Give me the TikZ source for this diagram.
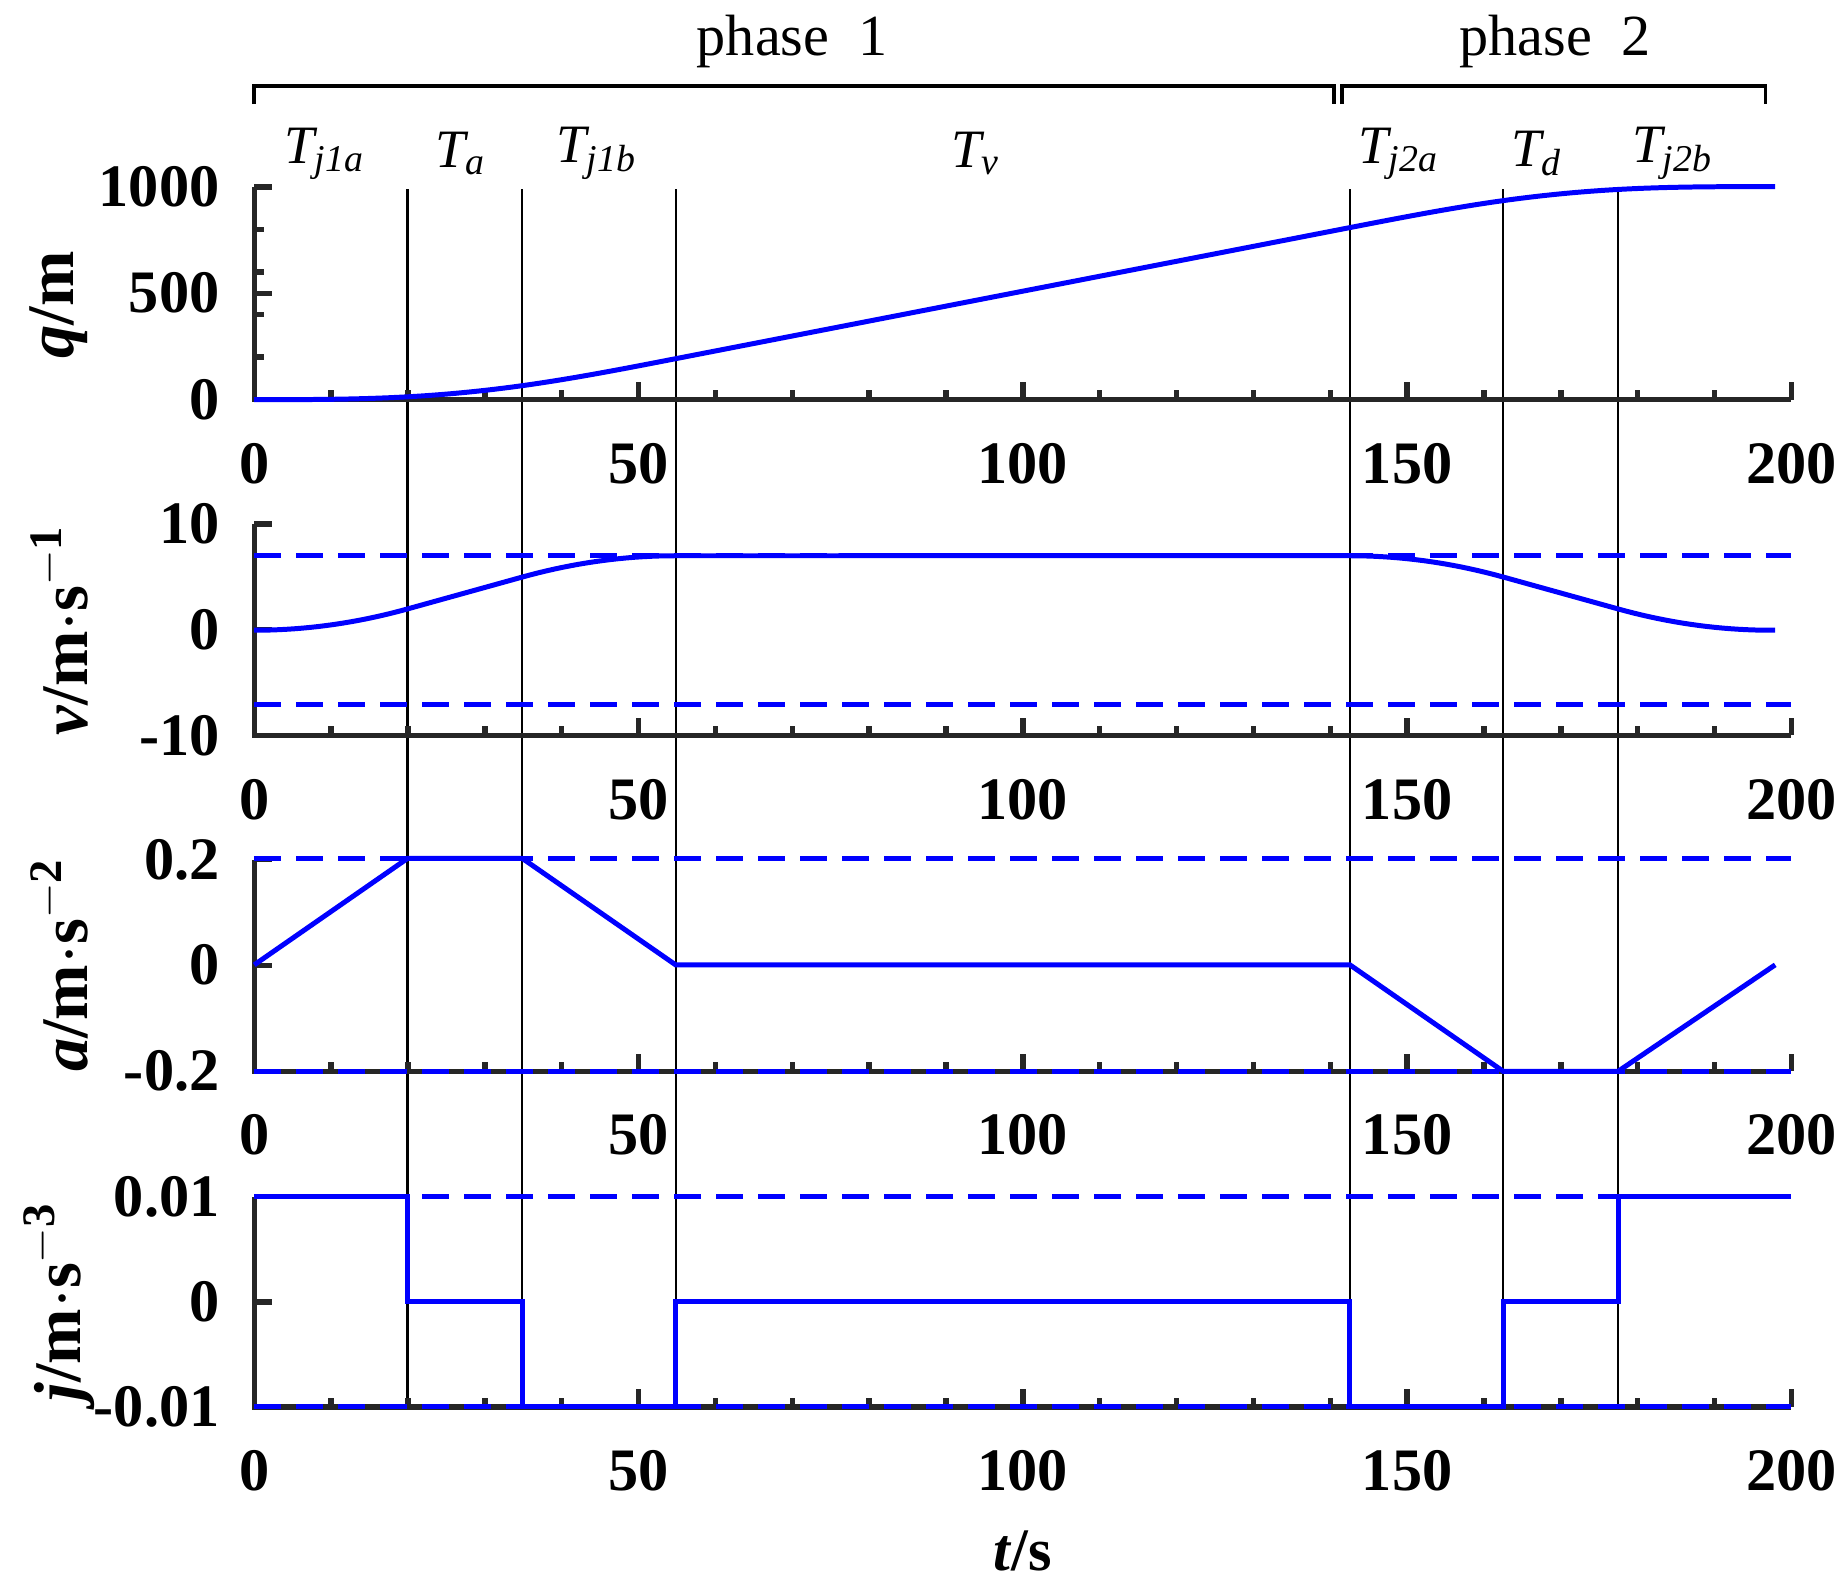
\documentclass[tikz,border=0pt]{standalone}
\usepackage{fontspec}
\setmainfont{Liberation Serif}
\begin{document}
\begin{tikzpicture}[x=0.01cm,y=-0.01cm,
  curve/.style={blue,line width=1.2pt},
  lim/.style={blue,line width=1.2pt,dash pattern=on 6.5pt off 3.6pt},
  axisline/.style={black!85,line width=1.3pt},
  tickl/.style={font=\bfseries\fontsize{14.5}{17}\selectfont},
  ylab/.style={font=\bfseries\fontsize{16}{18}\selectfont,rotate=90},
  tlab/.style={font=\itshape\fontsize{13}{15}\selectfont},
  vline/.style={black,line width=0.5pt}]
\useasboundingbox (0,0) rectangle (1562,1340);
% vertical separators
\foreach \t in {20,35,55,143,163,178}{
  \coordinate (vt\t) at ({215+6.48*\t},160);
  \coordinate (vb\t) at ({215+6.48*\t},1190);
  \draw[vline] (vt\t) -- (vb\t);}
% axes & ticks
\foreach \yb/\yt/\nm in {338/158/q,622/443/v,906/727/a,1190/1012/j}{
  \coordinate (\nm bl) at (215,\yb);
  \coordinate (\nm br) at (1515,\yb);
  \coordinate (\nm tl) at (215,\yt);
  \draw[axisline] (\nm tl) -- (\nm bl) -- (\nm br);
  \foreach \t in {10,20,...,190}{\draw[axisline] ({215+6.5*\t},\yb) -- ++(0,-8);}
  \foreach \t in {0,50,...,200}{\draw[axisline] ({215+6.5*\t},\yb) -- ++(0,-15);}
  \pgfmathsetmacro\ym{(\yb+\yt)/2}
  \foreach \yy in {\yt,\ym}{\draw[axisline] (215,\yy) -- ++(15,0);}
  \foreach \t/\lab in {0/0,50/50,100/100,150/150,200/200}{
    \node[tickl] (\nm x\t) at ({215+6.5*\t},\yb+54) {\lab};}
}
% small left ticks
\foreach \yy in {194,230,266,302}{\draw[axisline] (215,\yy) -- ++(8,0);}
% y tick labels
\foreach \y/\lab/\n in {158/1000/a1,248/500/a2,338/0/a3,443/10/b1,533/0/b2,622/-10/b3,
  727/0.2/c1,816/0/c2,906/-0.2/c3,1012/0.01/d1,1101/0/d2,1190/-0.01/d3}{
  \node[tickl,anchor=east] (yl\n) at (198,\y) {\lab};}
% y labels
\node[ylab] (ql) at (50,258) {\textit{q}/m};
\node[ylab] (vl) at (50,533) {\textit{v}/m$\cdot$s$^{\mathbf{-1}}$};
\node[ylab] (al) at (50,816) {\textit{a}/m$\cdot$s$^{\mathbf{-2}}$};
\node[ylab] (jl) at (50,1101) {\textit{j}/m$\cdot$s$^{\mathbf{-3}}$};
\node[tickl] (tl) at (865,1312) {\textit{t}/s};
% curves: q
\begin{scope}[shift={(215,338)},xscale=6.48,yscale=-0.18]
\draw[curve] plot[domain=0:20,samples=30] (\x,{\x^3/600})
 -- plot[domain=20:35,samples=20] (\x,{13.333+2*(\x-20)+0.1*(\x-20)^2})
 -- plot[domain=35:55,samples=20] (\x,{65.833+5*(\x-35)+0.1*(\x-35)^2-(\x-35)^3/600})
 -- plot[domain=143:163,samples=20] (\x,{1001-(65.833+5*(163-\x)+0.1*(163-\x)^2-(163-\x)^3/600)})
 -- plot[domain=163:178,samples=20] (\x,{1001-(13.333+2*(178-\x)+0.1*(178-\x)^2)})
 -- plot[domain=178:198,samples=30] (\x,{1001-(198-\x)^3/600}) -- (198.5,1001);
\end{scope}
% v
\begin{scope}[shift={(215,533)},xscale=6.48,yscale=-9]
\draw[lim] (0,7) -- (200.6,7); \draw[lim] (0,-7) -- (200.6,-7);
\draw[curve] plot[domain=0:20,samples=20] (\x,{\x^2/200})
 -- (35,5) -- plot[domain=35:55,samples=20] (\x,{5+0.2*(\x-35)-(\x-35)^2/200})
 -- (143,7) -- plot[domain=143:163,samples=20] (\x,{5+0.2*(163-\x)-(163-\x)^2/200})
 -- (178,2) -- plot[domain=178:198,samples=20] (\x,{(198-\x)^2/200}) -- (198.5,0);
\end{scope}
% a
\begin{scope}[shift={(215,816)},xscale=6.48,yscale=-450]
\draw[lim] (0,0.2) -- (200.6,0.2); \draw[lim] (0,-0.2) -- (200.6,-0.2);
\draw[curve] (0,0) -- (20,0.2) -- (35,0.2) -- (55,0) -- (143,0) -- (163,-0.2) -- (178,-0.2) -- (198.5,0);
\end{scope}
% j
\begin{scope}[shift={(215,1101)},xscale=6.48,yscale=-8900]
\draw[lim] (0,0.01) -- (200.6,0.01); \draw[lim] (0,-0.01) -- (200.6,-0.01);
\draw[curve] (0,0.01) -- (20,0.01) -- (20,0) -- (35,0) -- (35,-0.01) -- (55,-0.01) -- (55,0) -- (143,0) -- (143,-0.01) -- (163,-0.01) -- (163,0) -- (178,0) -- (178,0.01) -- (198.5,0.01);
\end{scope}
% interval labels
\node[tlab] (T1) at (275,130) {T\textsubscript{j1a}};
\node[tlab] (T2) at (390,130) {T\textsubscript{a}};
\node[tlab] (T3) at (505,130) {T\textsubscript{j1b}};
\node[tlab] (T4) at (825,130) {T\textsubscript{v}};
\node[tlab] (T5) at (1183,130) {T\textsubscript{j2a}};
\node[tlab] (T6) at (1300,130) {T\textsubscript{d}};
\node[tlab] (T7) at (1415,130) {T\textsubscript{j2b}};
% phase brackets
\coordinate (p1a) at (215,88); \coordinate (p1b) at (1128,88);
\coordinate (p2a) at (1135,88); \coordinate (p2b) at (1493,88);
\draw[line width=0.9pt] (p1a) -- ++(0,-15) -| (p1b);
\draw[line width=0.9pt] (p2a) -- ++(0,-15) -| (p2b);
\node[font=\fontsize{14}{16}\selectfont] (ph1) at (670,35) {phase\ \ 1};
\node[font=\fontsize{14}{16}\selectfont] (ph2) at (1315,35) {phase\ \ 2};
\end{tikzpicture}
\end{document}
